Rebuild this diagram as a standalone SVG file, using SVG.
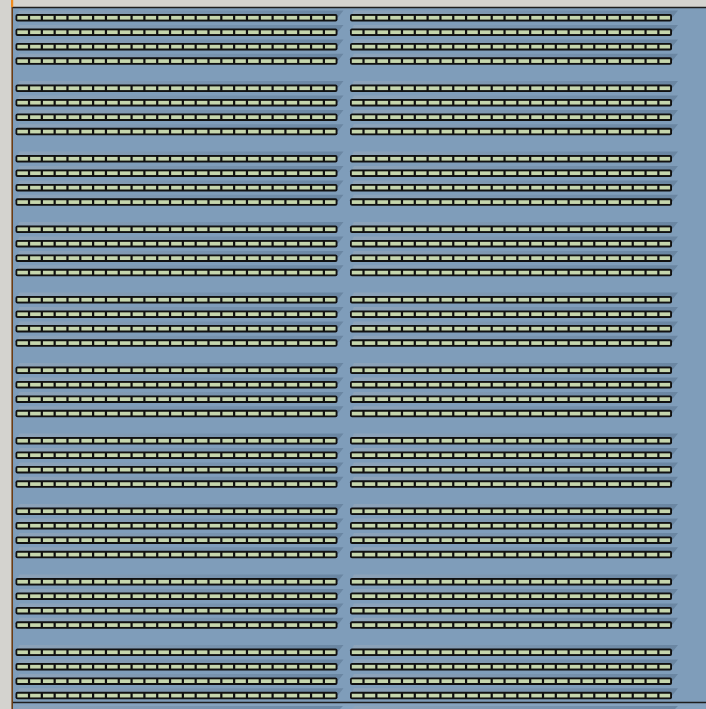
<svg xmlns="http://www.w3.org/2000/svg" xmlns:xlink="http://www.w3.org/1999/xlink" width="706" height="709" viewBox="0 0 706 709">
  <style>
    .bg { fill: #d4d3cf; }
    .panel { fill: #7f9dba; }
    .frame { fill: #111111; }
    .cell { fill: #c6d6ad; }
    .shadow { fill: url(#sh); }
  </style>
  <defs>
    <linearGradient id="sh" x1="0" y1="0" x2="1" y2="0">
      <stop offset="0" stop-color="#8ea4ba"/>
      <stop offset="0.6" stop-color="#7893ae"/>
      <stop offset="1" stop-color="#6a86a2"/>
    </linearGradient>
    <g id="bar">
      <polygon class="shadow" points="4,-3.5 328,-3.5 322,4 0,4"/>
      <rect class="frame" x="0" y="0" width="322" height="7.5" rx="2" ry="2"/>
      <rect class="cell" x="1.8" y="1.9" width="10.62" height="3.7"/>
      <rect class="cell" x="14.62" y="1.9" width="10.62" height="3.7"/>
      <rect class="cell" x="27.44" y="1.9" width="10.62" height="3.7"/>
      <rect class="cell" x="40.26" y="1.9" width="10.62" height="3.7"/>
      <rect class="cell" x="53.08" y="1.9" width="10.62" height="3.7"/>
      <rect class="cell" x="65.9" y="1.9" width="10.62" height="3.7"/>
      <rect class="cell" x="78.72" y="1.9" width="10.62" height="3.7"/>
      <rect class="cell" x="91.54" y="1.9" width="10.62" height="3.7"/>
      <rect class="cell" x="104.36" y="1.9" width="10.62" height="3.7"/>
      <rect class="cell" x="117.18" y="1.9" width="10.62" height="3.7"/>
      <rect class="cell" x="130" y="1.9" width="10.62" height="3.7"/>
      <rect class="cell" x="142.82" y="1.9" width="10.62" height="3.7"/>
      <rect class="cell" x="155.64" y="1.9" width="10.62" height="3.7"/>
      <rect class="cell" x="168.46" y="1.9" width="10.62" height="3.7"/>
      <rect class="cell" x="181.28" y="1.9" width="10.62" height="3.7"/>
      <rect class="cell" x="194.1" y="1.9" width="10.62" height="3.7"/>
      <rect class="cell" x="206.92" y="1.9" width="10.62" height="3.7"/>
      <rect class="cell" x="219.74" y="1.9" width="10.62" height="3.7"/>
      <rect class="cell" x="232.56" y="1.9" width="10.62" height="3.7"/>
      <rect class="cell" x="245.38" y="1.9" width="10.62" height="3.7"/>
      <rect class="cell" x="258.2" y="1.9" width="10.62" height="3.7"/>
      <rect class="cell" x="271.02" y="1.9" width="10.62" height="3.7"/>
      <rect class="cell" x="283.84" y="1.9" width="10.62" height="3.7"/>
      <rect class="cell" x="296.66" y="1.9" width="10.62" height="3.7"/>
      <rect class="cell" x="309.48" y="1.9" width="10.62" height="3.7"/>
    </g>
    <g id="bank">
      <use xlink:href="#bar" href="#bar" x="15.5" y="0"/>
      <use xlink:href="#bar" href="#bar" x="350" y="0"/>
      <use xlink:href="#bar" href="#bar" x="15.5" y="14.45"/>
      <use xlink:href="#bar" href="#bar" x="350" y="14.45"/>
      <use xlink:href="#bar" href="#bar" x="15.5" y="28.9"/>
      <use xlink:href="#bar" href="#bar" x="350" y="28.9"/>
      <use xlink:href="#bar" href="#bar" x="15.5" y="43.35"/>
      <use xlink:href="#bar" href="#bar" x="350" y="43.35"/>
    </g>
  </defs>

  <rect class="bg" x="0" y="0" width="706" height="709"/>
  <rect class="panel" x="12" y="7" width="694" height="702"/>

  <g id="banks">
    <g id="bank-1"><use xlink:href="#bank" href="#bank" x="0" y="14"/></g>
    <g id="bank-2"><use xlink:href="#bank" href="#bank" x="0" y="84.5"/></g>
    <g id="bank-3"><use xlink:href="#bank" href="#bank" x="0" y="155"/></g>
    <g id="bank-4"><use xlink:href="#bank" href="#bank" x="0" y="225.5"/></g>
    <g id="bank-5"><use xlink:href="#bank" href="#bank" x="0" y="296"/></g>
    <g id="bank-6"><use xlink:href="#bank" href="#bank" x="0" y="366.5"/></g>
    <g id="bank-7"><use xlink:href="#bank" href="#bank" x="0" y="437"/></g>
    <g id="bank-8"><use xlink:href="#bank" href="#bank" x="0" y="507.5"/></g>
    <g id="bank-9"><use xlink:href="#bank" href="#bank" x="0" y="578"/></g>
    <g id="bank-10"><use xlink:href="#bank" href="#bank" x="0" y="648.5"/></g>
  </g>

  <g id="lower-panel">
    <rect x="12" y="703" width="694" height="6" fill="#86a3bf"/>
    <polygon class="shadow" points="20,706 343,706 340,709 17,709"/>
    <polygon class="shadow" points="355,706 678,706 675,709 352,709"/>
  </g>

  <g id="frame-lines">
    <line x1="12" y1="7.5" x2="706" y2="7.5" stroke="#1e1e1e" stroke-width="1.5"/>
    <line x1="12" y1="702.5" x2="706" y2="702.5" stroke="#1e1e1e" stroke-width="1.5"/>
    <line x1="12.2" y1="7" x2="12.2" y2="709" stroke="#6b3d14" stroke-width="1.6"/>
    <rect x="11" y="0" width="2.2" height="7" fill="#f08a1c"/>
  </g>
</svg>
